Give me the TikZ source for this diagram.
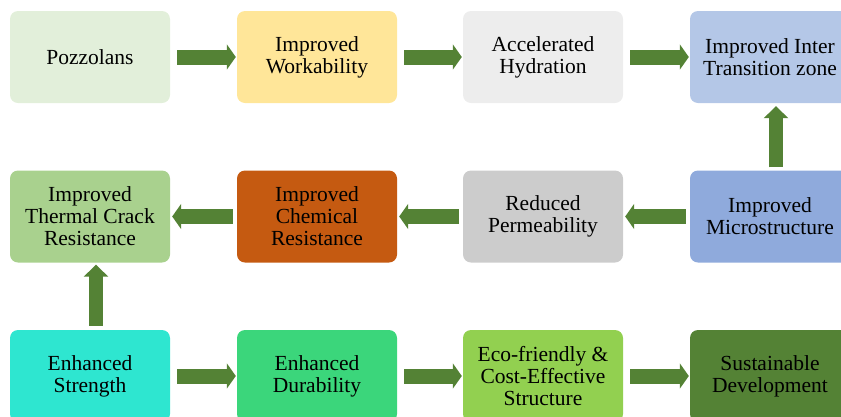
\documentclass[tikz,border=0pt]{standalone}
\usepackage{fontspec}
\setmainfont{Liberation Serif}
\newfontfamily\boxfont{Liberation Serif}
\usetikzlibrary{arrows.meta}

\newlength{\du}
\setlength{\du}{10pt}

\tikzset{
  blk/.style={rounded corners=0.8\du, minimum width=16\du, minimum height=9.2\du,
    inner sep=0pt, align=center, text=black, font=\boxfont\fontsize{21.5}{22}\selectfont},
  flow/.style={draw=arrowcolor, line width=15pt,
    -{Triangle[width=25pt,length=9pt]}},
  upflow/.style={draw=arrowcolor, line width=14pt,
    -{Triangle[width=24pt,length=12pt]}},
}

\begin{document}
\begin{tikzpicture}
\pgftransformxscale{1.000000}
\pgftransformyscale{-1.000000}
\useasboundingbox (0\du,0\du) rectangle (84.1\du,41.6\du);
\clip (0\du,0\du) rectangle (84.1\du,41.6\du);
\definecolor{arrowcolor}{rgb}{0.329412, 0.509804, 0.207843}
% top row
\definecolor{pozzcolor}{rgb}{0.886275, 0.937255, 0.854902}
\node[blk, fill=pozzcolor] (pozz) at (9.0\du,5.7\du){Pozzolans};
\definecolor{workcolor}{rgb}{1.000000, 0.901961, 0.600000}
\node[blk, fill=workcolor] (work) at (31.7\du,5.7\du){Improved\\Workability};
\definecolor{hydcolor}{rgb}{0.929412, 0.929412, 0.929412}
\node[blk, fill=hydcolor] (hyd) at (54.3\du,5.7\du){Accelerated\\Hydration};
\definecolor{itzcolor}{rgb}{0.705882, 0.780392, 0.905882}
\node[blk, fill=itzcolor] (itz) at (77.0\du,5.7\du){Improved Inter\\Transition zone};
% middle row
\definecolor{microcolor}{rgb}{0.560784, 0.666667, 0.862745}
\node[blk, fill=microcolor] (micro) at (77.0\du,21.65\du){Improved\\Microstructure};
\definecolor{permcolor}{rgb}{0.800000, 0.800000, 0.800000}
\node[blk, fill=permcolor] (perm) at (54.3\du,21.65\du){Reduced\\Permeability};
\definecolor{chemcolor}{rgb}{0.772549, 0.352941, 0.066667}
\node[blk, fill=chemcolor] (chem) at (31.7\du,21.65\du){Improved\\Chemical\\Resistance};
\definecolor{thermcolor}{rgb}{0.662745, 0.819608, 0.556863}
\node[blk, fill=thermcolor] (therm) at (9.0\du,21.65\du){Improved\\Thermal Crack\\Resistance};
% bottom row
\definecolor{strcolor}{rgb}{0.180392, 0.901961, 0.815686}
\node[blk, fill=strcolor] (str) at (9.0\du,37.6\du){Enhanced\\Strength};
\definecolor{durcolor}{rgb}{0.231373, 0.839216, 0.482353}
\node[blk, fill=durcolor] (dur) at (31.7\du,37.6\du){Enhanced\\Durability};
\definecolor{ecocolor}{rgb}{0.572549, 0.815686, 0.313725}
\node[blk, fill=ecocolor] (eco) at (54.3\du,37.6\du){Eco-friendly \&\\Cost-Effective\\Structure};
\node[blk, fill=arrowcolor] (sust) at (77.0\du,37.6\du){Sustainable\\Development};
% connectors
\draw[flow, shorten <=7pt, shorten >=1pt] (pozz.east)--(work.west);
\draw[flow, shorten <=7pt, shorten >=1pt] (work.east)--(hyd.west);
\draw[flow, shorten <=7pt, shorten >=1pt] (hyd.east)--(itz.west);
\draw[upflow, shorten <=3pt, shorten >=3pt] ([xshift=6pt]micro.north)--([xshift=6pt]itz.south);
\draw[flow, shorten <=4pt, shorten >=2pt] (micro.west)--(perm.east);
\draw[flow, shorten <=4pt, shorten >=2pt] (perm.west)--(chem.east);
\draw[flow, shorten <=4pt, shorten >=2pt] (chem.west)--(therm.east);
\draw[upflow, shorten <=4pt, shorten >=2pt] ([xshift=6pt]str.north)--([xshift=6pt]therm.south);
\draw[flow, shorten <=7pt, shorten >=1pt] (str.east)--(dur.west);
\draw[flow, shorten <=7pt, shorten >=1pt] (dur.east)--(eco.west);
\draw[flow, shorten <=7pt, shorten >=1pt] (eco.east)--(sust.west);
\end{tikzpicture}
\end{document}
